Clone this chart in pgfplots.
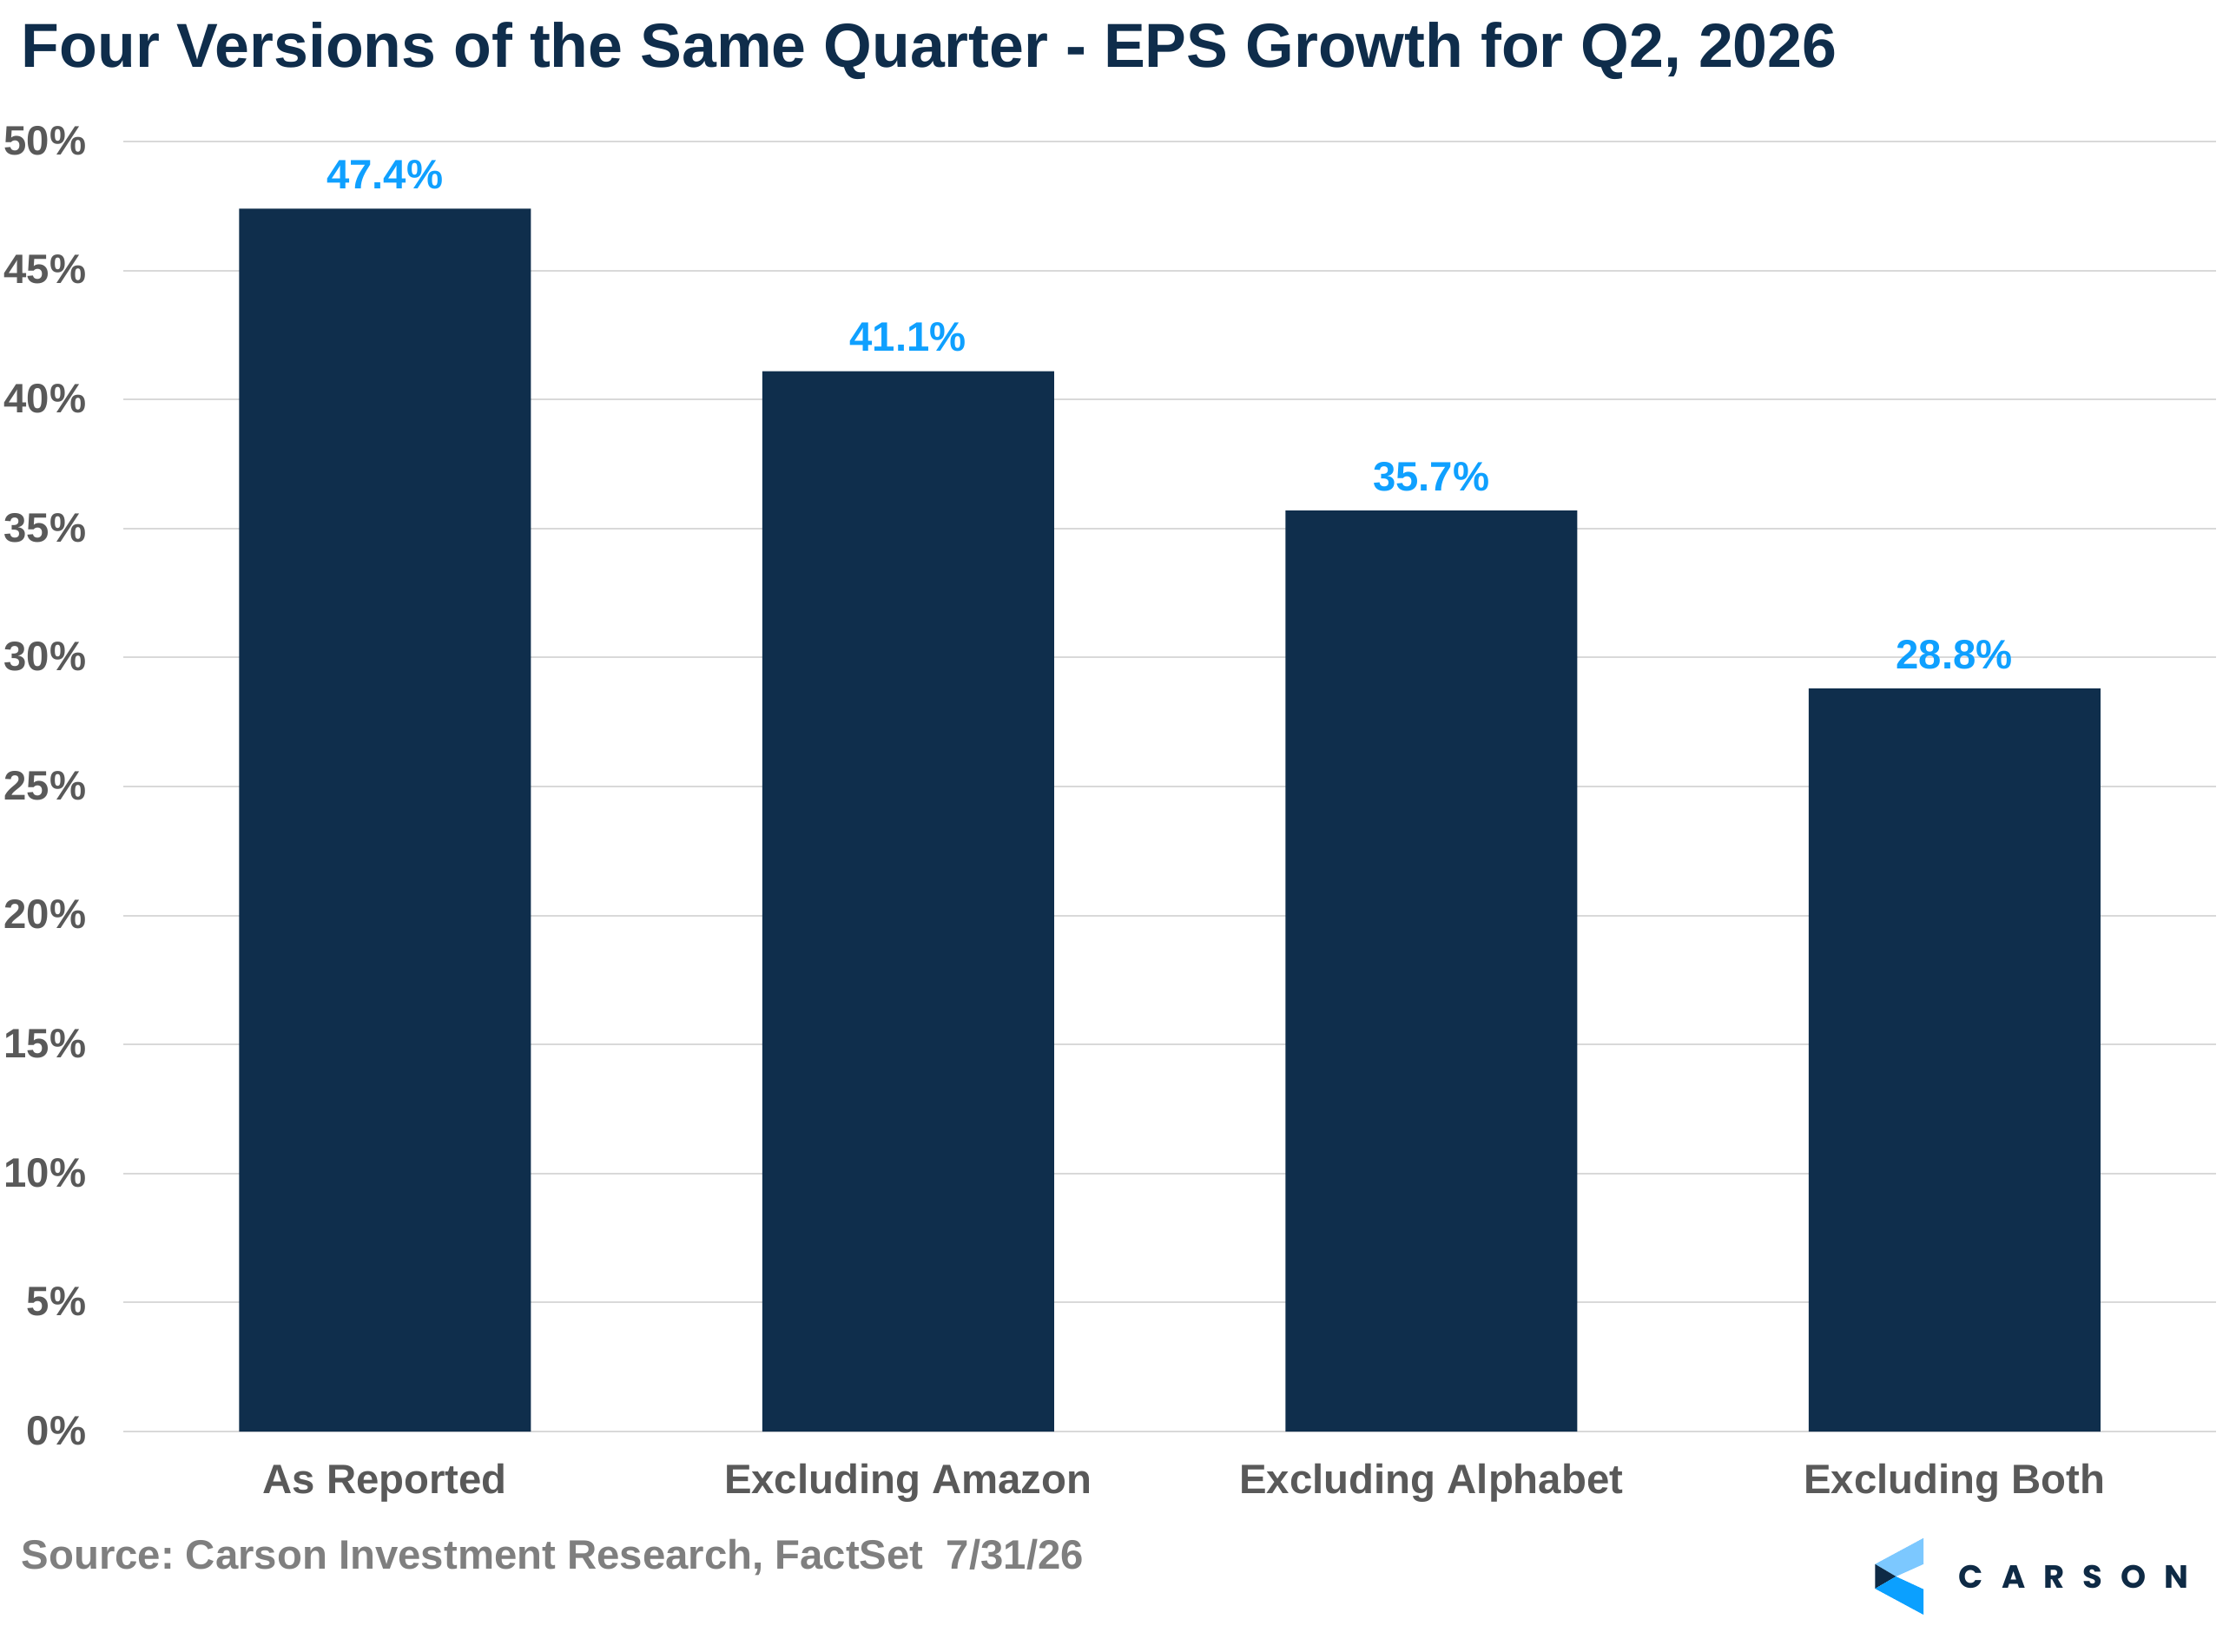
\documentclass[border=0pt]{standalone}
\usepackage{pgfplots}
\pgfplotsset{compat=1.18}
\usepackage{fontspec}
\setmainfont{Liberation Sans}
\newfontfamily\logofont{Poppins}
\definecolor{navy}{HTML}{0F2E4C}
\definecolor{titlec}{HTML}{0F2D4B}
\definecolor{lbl}{HTML}{0FA0FF}
\definecolor{tickc}{HTML}{595959}
\definecolor{srcc}{HTML}{7F7F7F}
\definecolor{gridc}{HTML}{D9D9D9}
\definecolor{logolight}{HTML}{7CC8FF}
\definecolor{logomid}{HTML}{0BA0FF}
\definecolor{logodark}{HTML}{0E2A45}
\frenchspacing
\begin{document}
\begin{tikzpicture}
\path[use as bounding box] (0,0) rectangle (768pt,570.6pt);
\begin{axis}[
  at={(42.6pt,75.9pt)}, anchor=south west,
  scale only axis, width=723pt, height=445.8pt,
  xmin=-0.5, xmax=3.5, ymin=0, ymax=50,
  axis line style={draw=none},
  major tick length=0pt,
  ytick={0,5,10,15,20,25,30,35,40,45,50},
  yticklabels={0\%,5\%,10\%,15\%,20\%,25\%,30\%,35\%,40\%,45\%,50\%},
  xtick={0,1,2,3},
  xticklabels={As Reported,Excluding Amazon,Excluding Alphabet,Excluding Both},
  ymajorgrids, major grid style={gridc, line width=0.6pt},
  ticklabel style={font=\fontsize{14.2pt}{16pt}\selectfont\bfseries, text=tickc, inner sep=0pt},
  yticklabel style={anchor=base east, xshift=-12.6pt, yshift=-4.6pt},
  xticklabel style={anchor=base, yshift=-21.3pt},
  /pgf/number format/assume math mode=true,
  ybar, bar width=100.8pt,
  nodes near coords={\pgfmathprintnumber[fixed,precision=1,fixed zerofill]{\pgfplotspointmeta}\%},
  nodes near coords style={font=\fontsize{14.2pt}{16pt}\selectfont\bfseries, text=lbl, anchor=base, inner sep=0pt, yshift=6.9pt},
  clip=false,
]
\addplot[fill=navy, draw=none] coordinates {(0,47.4) (1,41.1) (2,35.7) (3,28.8)};
\end{axis}
\node[anchor=base west, inner sep=0pt, text=titlec, font=\fontsize{21.5pt}{24pt}\selectfont\bfseries] at (7.2pt,547.2pt) {Four Versions of the Same Quarter - EPS Growth for Q2, 2026};
\node[anchor=base west, inner sep=0pt, text=srcc, font=\fontsize{14.2pt}{16pt}\selectfont\bfseries] at (7.2pt,28.5pt) {Source: Carson Investment Research, FactSet\ \ 7/31/26};
% logo
\fill[logolight] (647.8pt,30.06pt) -- (664.5pt,39.06pt) -- (664.5pt,30.06pt) -- (655pt,25.8pt) -- cycle;
\fill[logodark] (647.8pt,30.06pt) -- (655pt,25.8pt) -- (647.8pt,21.6pt) -- cycle;
\fill[logomid] (647.8pt,21.6pt) -- (655pt,25.8pt) -- (664.5pt,21.4pt) -- (664.5pt,12.6pt) -- cycle;
\node[anchor=base west, inner sep=0pt, text=logodark, font=\logofont\fontsize{11.1pt}{12pt}\selectfont\bfseries] at (676.5pt,21.9pt) {\makebox[79.5pt][s]{C\hfill A\hfill R\hfill S\hfill O\hfill N}};
\end{tikzpicture}
\end{document}
